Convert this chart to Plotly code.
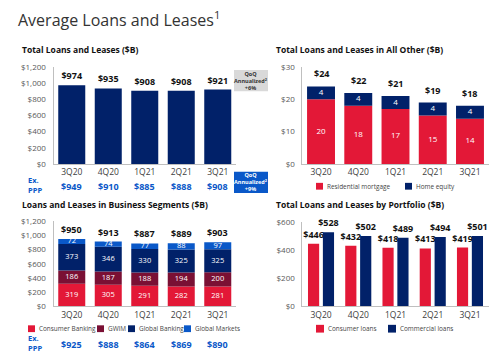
import plotly.graph_objects as go
import numpy as np

quarters = ["3Q20", "4Q20", "1Q21", "2Q21", "3Q21"]

total_loans = [974, 935, 908, 908, 921]
total_ex_ppp = [949, 910, 885, 888, 908]
qoq_total = "+6%"
qoq_ex_ppp = "+9%"

other_resi_mortgage = [20, 18, 17, 15, 14]
other_home_equity = [4, 4, 4, 4, 4]
other_total = [24, 22, 21, 19, 18]

seg_consumer = [319, 305, 291, 282, 281]
seg_gwim = [186, 187, 188, 194, 200]
seg_global_banking = [373, 346, 330, 325, 325]
seg_global_markets = [72, 74, 77, 88, 97]
seg_total = [950, 913, 887, 889, 903]
seg_ex_ppp = [925, 888, 864, 869, 890]

port_consumer = [446, 432, 418, 413, 419]
port_commercial = [528, 502, 489, 494, 501]

ticks_1200 = [0, 200, 400, 600, 800, 1000, 1200]
ticks_30 = [0, 10, 20, 30]
ticks_600 = [0, 200, 400, 600]

NAVY = "#012169"
RED = "#E31837"
MAROON = "#7A1034"
BLUE = "#0A58C8"
GRAY_TXT = "#404040"
FONT = "Open Sans"

W, H = 500, 356


def px(x):
    return x / W


def py(y):
    return 1 - y / H


fig = go.Figure()


def add_stack(series, colors, xa, ya, width, fsize):
    base = np.zeros(len(quarters))
    for vals, col in zip(series, colors):
        vals = np.array(vals, dtype=float)
        fig.add_trace(go.Bar(x=quarters, y=vals, base=base, marker_color=col,
                             marker_line_width=0, width=width, xaxis=xa, yaxis=ya,
                             showlegend=False, hoverinfo="skip"))
        fig.add_trace(go.Scatter(x=quarters, y=base + vals / 2, mode="text",
                                 text=[f"{int(v)}" for v in vals],
                                 textfont=dict(color="white", size=fsize, family=FONT),
                                 xaxis=xa, yaxis=ya, showlegend=False,
                                 hoverinfo="skip", cliponaxis=False))
        base = base + vals
    return base


# Panel 1: total loans
fig.add_trace(go.Bar(x=quarters, y=total_loans, marker_color=NAVY, width=0.74,
                     marker_line_width=0,
                     text=[f"<b>${v}</b>" for v in total_loans], textposition="outside",
                     constraintext="none", cliponaxis=False,
                     textfont=dict(color="#111", size=9, family=FONT),
                     xaxis="x", yaxis="y", showlegend=False))

# Panel 2: all other
add_stack([other_resi_mortgage, other_home_equity], [RED, NAVY], "x2", "y2", 0.75, 8)

# Panel 3: business segments
add_stack([seg_consumer, seg_gwim, seg_global_banking, seg_global_markets],
          [RED, MAROON, NAVY, BLUE], "x3", "y3", 0.74, 7.5)

# Panel 4: by portfolio
fig.add_trace(go.Bar(x=quarters, y=port_consumer, marker_color=RED, width=0.3, offset=-0.35,
                     marker_line_width=0,
                     text=[f"<b>${v}</b>" for v in port_consumer], textposition="outside",
                     constraintext="none", cliponaxis=False,
                     textfont=dict(color="#111", size=9, family=FONT),
                     xaxis="x4", yaxis="y4", showlegend=False))
fig.add_trace(go.Bar(x=quarters, y=port_commercial, marker_color=NAVY, width=0.3, offset=0.05,
                     marker_line_width=0,
                     text=[f"<b>${v}</b>" for v in port_commercial], textposition="outside",
                     constraintext="none", cliponaxis=False,
                     textfont=dict(color="#111", size=9, family=FONT),
                     xaxis="x4", yaxis="y4", showlegend=False))

xcommon = dict(type="category", showline=True, linecolor="#bfbfbf", linewidth=1,
               ticks="", showgrid=False, zeroline=False,
               tickfont=dict(size=8.5, color=GRAY_TXT, family=FONT), fixedrange=True)


def ycommon(tv, rng):
    return dict(range=rng, tickvals=tv, ticktext=[f"${v:,}" for v in tv],
                showline=True, linecolor="#bfbfbf", linewidth=1, ticks="",
                showgrid=False, zeroline=False, ticklabelstandoff=5,
                tickfont=dict(size=8, color="#595959", family=FONT), fixedrange=True)


fig.update_layout(
    width=W, height=H, margin=dict(l=0, r=0, t=0, b=0),
    paper_bgcolor="white", plot_bgcolor="white", barmode="overlay",
    font=dict(family=FONT, color=GRAY_TXT),
    xaxis=dict(domain=[px(53.5), px(236)], anchor="y", **xcommon),
    yaxis=dict(domain=[py(163), py(63)], anchor="x", **ycommon(ticks_1200, [0, 1200])),
    xaxis2=dict(domain=[px(302.4), px(488.6)], anchor="y2", **xcommon),
    yaxis2=dict(domain=[py(163), py(63)], anchor="x2", **ycommon(ticks_30, [0, 30])),
    xaxis3=dict(domain=[px(53.5), px(236)], anchor="y3", **xcommon),
    yaxis3=dict(domain=[py(310), py(222)], anchor="x3", **ycommon(ticks_1200, [0, 1200])),
    xaxis4=dict(domain=[px(302.4), px(488.6)], anchor="y4", **xcommon),
    yaxis4=dict(domain=[py(310), py(223)], anchor="x4", **ycommon(ticks_600, [0, 600])),
)

ann = []
shapes = []

# stacked totals above bars
for xa, ya, vals, shift in [("x2", "y2", other_total, 4), ("x3", "y3", seg_total, 1)]:
    for q, v in zip(quarters, vals):
        ann.append(dict(x=q, y=v, xref=xa, yref=ya, text=f"<b>${v}</b>", showarrow=False,
                        xanchor="center", yanchor="bottom", yshift=shift,
                        font=dict(size=9, color="#111", family=FONT)))


def text(x, y, s, size, color=GRAY_TXT, xanchor="left", bold=False, **kw):
    ann.append(dict(x=px(x), y=py(y), xref="paper", yref="paper", text=(f"<b>{s}</b>" if bold else s),
                    showarrow=False, xanchor=xanchor, yanchor="middle",
                    font=dict(size=size, color=color, family=FONT), **kw))


# Titles
text(16, 13, "Average Loans and Leases<sup>1</sup>", 16, color="#333333")
text(20, 45, "Total Loans and Leases ($B)", 8.5, color="#111", bold=True)
text(274, 45, "Total Loans and Leases in All Other ($B)", 8.5, color="#111", bold=True)
text(20, 205, "Loans and Leases in Business Segments ($B)", 8.5, color="#111", bold=True)
text(274, 205, "Total Loans and Leases by Portfolio ($B)", 8.5, color="#111", bold=True)

# Ex. PPP rows
for yrow, vals, xa in [(185, total_ex_ppp, "x"), (348, seg_ex_ppp, "x3")]:
    text(26, yrow, "Ex.<br>PPP", 7.5, color=BLUE, bold=True, align="left")
    for q, v in zip(quarters, vals):
        ann.append(dict(x=q, xref=xa, y=py(yrow + 1), yref="paper", text=f"<b>${v}</b>",
                        showarrow=False, xanchor="center", yanchor="middle",
                        font=dict(size=9, color=BLUE, family=FONT)))

# QoQ boxes
shapes.append(dict(type="rect", xref="paper", yref="paper", x0=px(234), x1=px(268),
                   y0=py(88), y1=py(66), fillcolor="#d9d9d9", line_width=0))
text(251, 77, f"<b>QoQ<br>Annualized<sup>2</sup><br>{qoq_total}</b>", 5.5, color="#333",
     xanchor="center", align="center")
shapes.append(dict(type="rect", xref="paper", yref="paper", x0=px(234), x1=px(268),
                   y0=py(193), y1=py(171), fillcolor=BLUE, line_width=0))
text(251, 182, f"<b>QoQ<br>Annualized<sup>2</sup><br>{qoq_ex_ppp}</b>", 5.5, color="white",
     xanchor="center", align="center")


# Manual legends
def legend_item(x, y, color, label, sz=7):
    shapes.append(dict(type="rect", xref="paper", yref="paper", x0=px(x), x1=px(x + sz),
                       y0=py(y + sz / 2), y1=py(y - sz / 2), fillcolor=color, line_width=0))
    text(x + sz + 1.5, y, label, 6.4, color="#444")


legend_item(316, 186, RED, "Residential mortgage")
legend_item(405, 186, NAVY, "Home equity")
legend_item(28, 333, RED, "Consumer Banking")
legend_item(97, 333, MAROON, "GWIM")
legend_item(128, 333, NAVY, "Global Banking")
legend_item(184, 333, BLUE, "Global Markets")
legend_item(316, 333, RED, "Consumer loans", 8)
legend_item(388, 333, NAVY, "Commercial loans", 8)

fig.update_layout(annotations=ann, shapes=shapes)
fig.write_html("out.html", config={"displayModeBar": False},
               post_script="document.body.style.margin='0';")
